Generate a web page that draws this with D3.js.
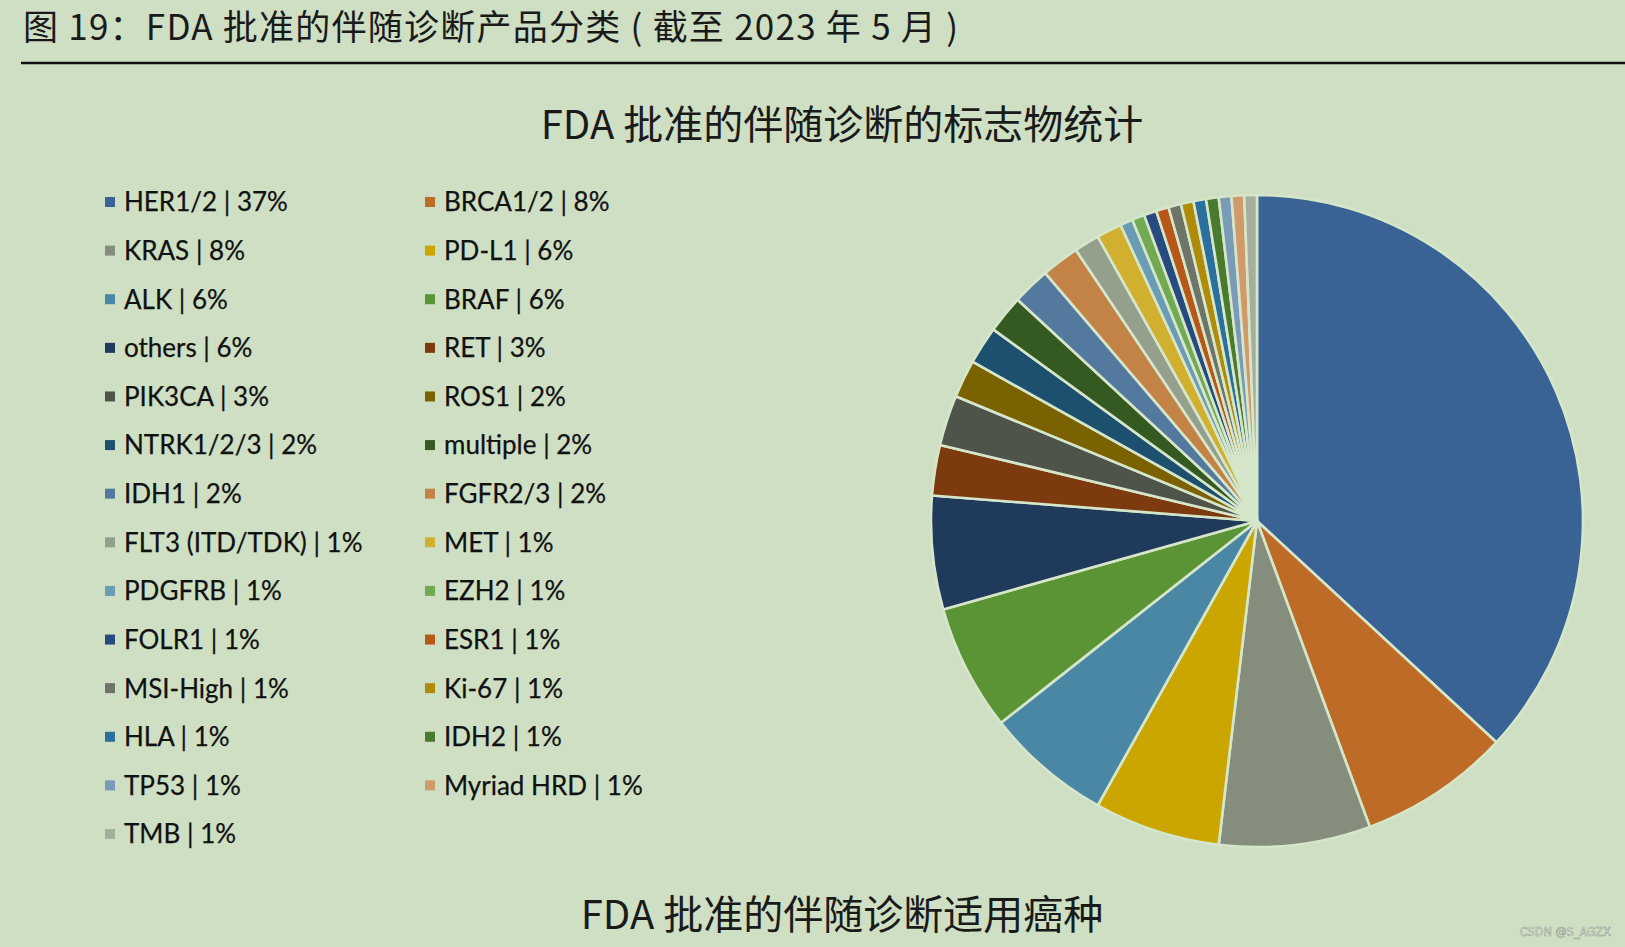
<!DOCTYPE html>
<html>
<head>
<meta charset="utf-8">
<script src="https://cdn.jsdelivr.net/npm/d3@7"></script>
<style>
  html, body { margin: 0; padding: 0; background: #cedfc3; }
  svg { display: block; }
</style>
</head>
<body>
<svg id="chart" width="1625" height="947"></svg>
<script>
// ---- data ----
const markers = ["HER1/2","BRCA1/2","KRAS","PD-L1","ALK","BRAF","others","RET","PIK3CA","ROS1",
  "NTRK1/2/3","multiple","IDH1","FGFR2/3","FLT3 (ITD/TDK)","MET","PDGFRB","EZH2","FOLR1","ESR1",
  "MSI-High","Ki-67","HLA","IDH2","TP53","Myriad HRD","TMB"];
const counts = [59,12,12,10,10,10,9,4,4,3,3,3,3,3,2,2,1,1,1,1,1,1,1,1,1,1,1];
const colors = ["#386394","#be6b27","#858e7c","#cca600","#4a87a4","#5a9435","#1f3a5a","#7d3a0e","#4f544a","#7a6200",
  "#1c506e","#355a21","#54799e","#c38346","#949f8c","#d0b02e","#6a9cb4","#72aa53","#274b80","#b85718",
  "#6e7468","#ae8c0a","#2a6f9d","#4a7a2e","#7a9bb8","#d09a6b","#a3ae9b"];
const heading = "图 19：FDA 批准的伴随诊断产品分类 ( 截至 2023 年 5 月 )";
const chartTitle = "FDA 批准的伴随诊断的标志物统计";
const subTitle = "FDA 批准的伴随诊断适用癌种";
const watermark = "CSDN @S_AGZX";

const total = d3.sum(counts);
const data = markers.map((m, i) => ({ name: m, value: counts[i], color: colors[i],
  label: m + " | " + Math.round(counts[i] / total * 100) + "%" }));

const svg = d3.select("#chart");
const cjk = "'Noto Sans CJK SC', 'Noto Sans', sans-serif";

// heading
svg.append("text").attr("x", 23).attr("y", 40)
  .attr("font-family", cjk).attr("font-size", 35).attr("fill", "#1a1a1a")
  .attr("textLength", 935).attr("lengthAdjust", "spacing")
  .text(heading);
svg.append("line").attr("x1", 21).attr("x2", 1625).attr("y1", 63).attr("y2", 63)
  .attr("stroke", "#111").attr("stroke-width", 2.5);

// chart title
svg.append("text").attr("x", 842).attr("y", 139).attr("text-anchor", "middle")
  .attr("font-family", cjk).attr("font-size", 40).attr("fill", "#1a1a1a")
  .text(chartTitle);
svg.append("text").attr("x", 842).attr("y", 929).attr("text-anchor", "middle")
  .attr("font-family", cjk).attr("font-size", 40).attr("fill", "#1a1a1a")
  .text(subTitle);

// pie
const cx = 1257, cy = 521, R = 326;
const pie = d3.pie().sort(null).value(d => d.value);
const arc = d3.arc().innerRadius(0).outerRadius(R);
svg.append("g").attr("transform", `translate(${cx},${cy})`)
  .selectAll("path").data(pie(data)).join("path")
  .attr("d", arc).attr("fill", d => d.data.color)
  .attr("stroke", "#d6e6ca").attr("stroke-width", 2.6).attr("stroke-linejoin", "round");

// legend
const colX = d3.scalePoint().domain([0, 1]).range([105, 425]);
const rowY = d3.scalePoint().domain(d3.range(14)).range([202, 834]);
const lg = svg.append("g");
const items = lg.selectAll("g").data(data).join("g")
  .attr("transform", (d, i) => `translate(${colX(i % 2)},${rowY(Math.floor(i / 2))})`);
items.append("rect").attr("x", 0).attr("y", -5).attr("width", 10).attr("height", 10)
  .attr("fill", d => d.color);
items.append("text").attr("x", 19).attr("y", 0).attr("dy", "0.36em")
  .attr("font-family", "Lato, 'Open Sans', sans-serif").attr("font-size", 26).attr("fill", "#111")
  .attr("stroke", "#111").attr("stroke-width", 0.25)
  .text(d => d.label);

// watermark
svg.append("text").attr("x", 1611).attr("y", 936).attr("text-anchor", "end")
  .attr("font-family", "'DejaVu Sans Condensed', 'Liberation Sans Narrow', sans-serif").attr("font-size", 12.5)
  .attr("fill", "#eef0ec").attr("stroke", "#8c9689").attr("stroke-width", 0.5)
  .text(watermark);
</script>
</body>
</html>
